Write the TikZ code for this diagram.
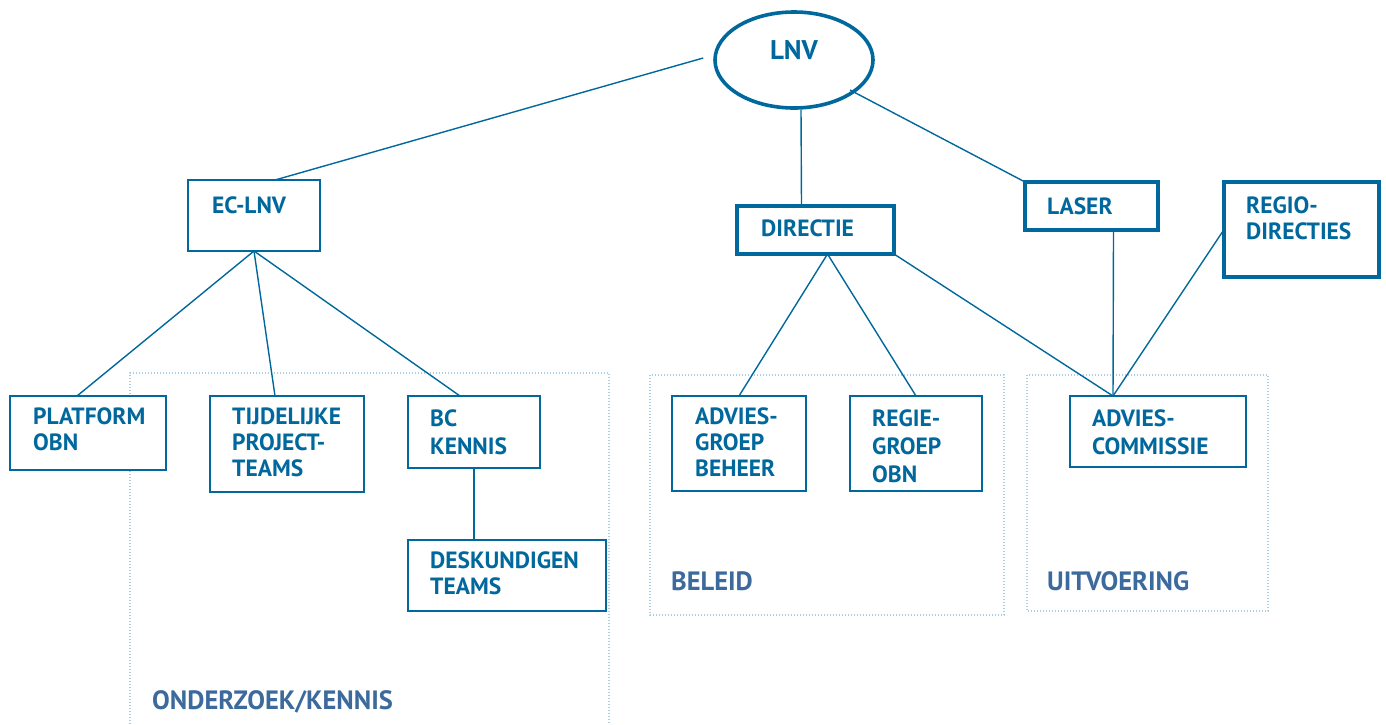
\documentclass[tikz,border=0pt]{standalone}
\usepackage{fontspec}
\setmainfont{PT Sans}
\usetikzlibrary{calc, positioning, shapes.geometric}
\definecolor{lnvblauw}{HTML}{00689C}
\definecolor{labelblauw}{HTML}{3C6A9C}
\definecolor{gebiedblauw}{HTML}{A9CDE3}

\begin{document}
\begin{tikzpicture}[
            x=1pt, y=-1pt,
            eenheid/.style={draw=lnvblauw, line width=1.8pt, fill=white,
              inner sep=0pt, outer sep=0pt, anchor=north west},
            zwaar/.style={eenheid, line width=3.6pt},
            tekst/.style={anchor=north west, inner sep=0pt, align=left,
              text=lnvblauw, font=\bfseries\fontsize{23.5}{26}\selectfont},
            ruim/.style={font=\bfseries\fontsize{23.5}{28}\selectfont},
            lijn/.style={draw=lnvblauw, line width=1.4pt},
            gebied/.style={draw=gebiedblauw, line width=1.1pt,
              dash pattern=on 1pt off 2pt},
            gebiedtekst/.style={anchor=base west, inner sep=0pt,
              text=labelblauw, font=\bfseries\fontsize{26.5}{28}\selectfont}
        ]
            \useasboundingbox (0,0) rectangle (1386,724);

            % Gebieden
            \draw[gebied] (130,760) -- (130,373) -- (609,373) -- (609,760);
            \draw[gebied] (650,375) rectangle (1004,615);
            \draw[gebied] (1027,375) rectangle (1268,611);
            \node[gebiedtekst] (onderzoek) at (152,709) {ONDERZOEK/KENNIS};
            \node[gebiedtekst] (beleid) at (671,590) {BELEID};
            \node[gebiedtekst] (uitvoering) at (1047,590) {UITVOERING};

            % LNV
            \node[ellipse, draw=lnvblauw, line width=3.6pt, fill=white,
              minimum width=158, minimum height=96, inner sep=0pt] (lnv) at (794,60) {};
            \node[text=lnvblauw, font=\bfseries\fontsize{27}{30}\selectfont,
              inner sep=0pt] (lnvtekst) at (794,50) {LNV};

            % Eenheden
            \node[eenheid, minimum width=132, minimum height=71] (eclnv) at (188,180) {};
            \node[zwaar, minimum width=157, minimum height=48] (directie) at (737,206) {};
            \node[zwaar, minimum width=133, minimum height=48] (laser) at (1025,182) {};
            \node[zwaar, minimum width=155, minimum height=95] (regio) at (1224,182) {};
            \node[eenheid, minimum width=156, minimum height=74] (platform) at (10,396) {};
            \node[eenheid, minimum width=154, minimum height=96] (tijdelijk) at (210,396) {};
            \node[eenheid, minimum width=132, minimum height=72] (bckennis) at (408,396) {};
            \node[eenheid, minimum width=198, minimum height=71] (deskundig) at (408,540) {};
            \node[eenheid, minimum width=134, minimum height=95] (adviesgroep) at (672,396) {};
            \node[eenheid, minimum width=132, minimum height=95] (regiegroep) at (850,396) {};
            \node[eenheid, minimum width=176, minimum height=71] (advcommissie) at (1070,396) {};

            % Verbindingen
            \draw[lijn] ([xshift=-10pt, yshift=2pt]lnv.west) -- ([xshift=87pt]eclnv.north west);
            \draw[lijn] ([xshift=7pt]lnv.south) -- ([xshift=-14pt]directie.north);
            \draw[lijn] ($(lnv.center)+(56,30)$) -- (laser.north west);
            \draw[lijn] (eclnv.south) -- ([xshift=-11pt]platform.north);
            \draw[lijn] (eclnv.south) -- ([xshift=-12pt]tijdelijk.north);
            \draw[lijn] (eclnv.south) -- ([xshift=-14pt]bckennis.north);
            \draw[lijn] (bckennis.south) -- (bckennis.south |- deskundig.north);
            \draw[lijn] ([xshift=12pt]directie.south) -- (adviesgroep.north);
            \draw[lijn] ([xshift=12pt]directie.south) -- (regiegroep.north);
            \draw[lijn] (directie.south east) -- ([xshift=-45pt]advcommissie.north);
            \draw[lijn] ([xshift=22pt]laser.south) -- ([xshift=-45pt]advcommissie.north);
            \draw[lijn] (regio.west) -- ([xshift=-45pt]advcommissie.north);

            % Teksten
            \node[tekst] (eclnvtekst) at ($(eclnv.north west)+(24,17)$) {EC-LNV};
            \node[tekst] (directietekst) at ($(directie.north west)+(24,14)$) {DIRECTIE};
            \node[tekst] (lasertekst) at ($(laser.north west)+(22,16)$) {LASER};
            \node[tekst] (regiotekst) at ($(regio.north west)+(22,15)$) {REGIO-\\DIRECTIES};
            \node[tekst] (platformtekst) at ($(platform.north west)+(23,12)$) {PLATFORM\\OBN};
            \node[tekst] (tijdelijktekst) at ($(tijdelijk.north west)+(22,12)$) {TIJDELIJKE\\PROJECT-\\TEAMS};
            \node[tekst, ruim] (bckennistekst) at ($(bckennis.north west)+(22,14)$) {BC\\KENNIS};
            \node[tekst] (deskundigtekst) at ($(deskundig.north west)+(22,12)$) {DESKUNDIGEN\\TEAMS};
            \node[tekst] (adviesgroeptekst) at ($(adviesgroep.north west)+(23,12)$) {ADVIES-\\GROEP\\BEHEER};
            \node[tekst, ruim] (regiegroeptekst) at ($(regiegroep.north west)+(22,14)$) {REGIE-\\GROEP\\OBN};
            \node[tekst, ruim] (advcommissietekst) at ($(advcommissie.north west)+(22,14)$) {ADVIES-\\COMMISSIE};

        \end{tikzpicture}
\end{document}
